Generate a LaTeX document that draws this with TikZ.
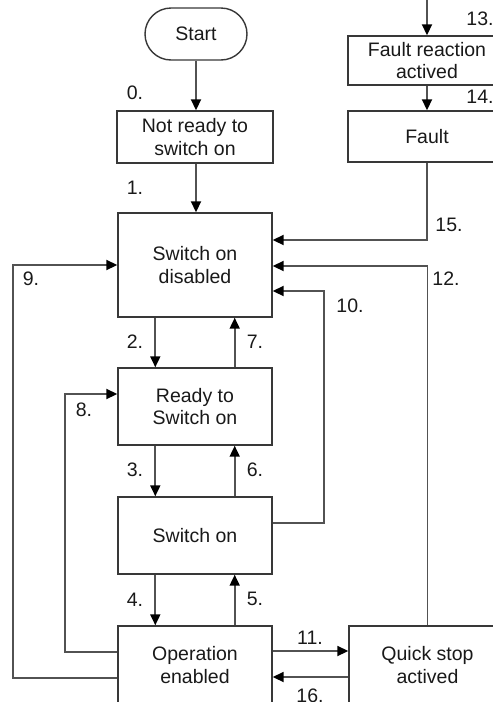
\documentclass[tikz,border=0pt]{standalone}
\usepackage{fontspec}
\setmainfont{Liberation Sans}
\usetikzlibrary{arrows.meta}
\begin{document}
\begin{tikzpicture}[x=1pt,y=-1pt,
  box/.style={draw=black!78,line width=1.4pt,fill=white,inner sep=0pt,align=center,font=\fontsize{19.5}{22.5}\selectfont,text=black!90},
  conn/.style={draw=black!68,line width=1.8pt,-{Triangle[length=11pt,width=10pt,color=black]}},
  num/.style={inner sep=0pt,font=\fontsize{19.5}{22.5}\selectfont,text=black!90}]
\useasboundingbox (0,0) rectangle (493,702);
\clip (0,0) rectangle (493,702);
% nodes
\node[box,rounded corners=26pt,minimum width=102pt,minimum height=52pt] (start) at (196,34) {Start};
\node[box,minimum width=156pt,minimum height=52pt] (notready) at (195,137) {Not ready to\\switch on};
\node[box,minimum width=154pt,minimum height=104pt] (sod) at (195,265) {Switch on\\disabled};
\node[box,minimum width=154pt,minimum height=77pt] (rts) at (195,406.5) {Ready to\\Switch on};
\node[box,minimum width=154pt,minimum height=77pt] (son) at (195,535.5) {Switch on};
\node[box,minimum width=154pt,minimum height=78pt] (oe) at (195,665) {Operation\\enabled};
\node[box,minimum width=157pt,minimum height=78pt] (qs) at (427.5,665) {Quick stop\\actived};
\node[box,minimum width=158pt,minimum height=49pt] (fra) at (427,60.5) {Fault reaction\\actived};
\node[box,minimum width=158pt,minimum height=51pt] (fault) at (427,136.5) {Fault};
\coordinate (in13) at (427,-2);
% connectors
\draw[conn] (start.south) -- (notready.north -| start.south);
\draw[conn] (notready.south -| start.south) -- (sod.north -| start.south);
\draw[conn] ([xshift=38pt]sod.south west) -- ([xshift=38pt]rts.north west);
\draw[conn] ([xshift=-38pt]rts.north east) -- ([xshift=-38pt]sod.south east);
\draw[conn] ([xshift=38pt]rts.south west) -- ([xshift=38pt]son.north west);
\draw[conn] ([xshift=-38pt]son.north east) -- ([xshift=-38pt]rts.south east);
\draw[conn] ([xshift=38pt]son.south west) -- ([xshift=38pt]oe.north west);
\draw[conn] ([xshift=-38pt]oe.north east) -- ([xshift=-38pt]son.south east);
\draw[conn] ([yshift=12.5pt]son.east) -- ++(51,0) |- ([yshift=-26pt]sod.east);
\draw[conn] (qs.north) |- ([yshift=-1pt]sod.east);
\draw[conn] (fault.south) |- ([yshift=25pt]sod.east);
\draw[conn] (in13) -- (fra.north);
\draw[conn] (fra.south) -- (fault.north);
\draw[conn] ([yshift=-13pt]oe.west) -- ++(-104,0) |- (sod.west);
\draw[conn] ([yshift=13pt]oe.west) -- ++(-52,0) |- ([yshift=12.5pt]rts.west);
\draw[conn] ([yshift=14pt]oe.east) -- ([yshift=14pt]qs.west);
\draw[conn] ([yshift=-12pt]qs.west) -- ([yshift=-12pt]oe.east);
% labels
\node[num] (l0) at (135,93) {0.};
\node[num] (l1) at (135,188) {1.};
\node[num] (l2) at (135,342) {2.};
\node[num] (l7) at (255,342) {7.};
\node[num] (l8) at (84,410) {8.};
\node[num] (l9) at (31,279) {9.};
\node[num] (l3) at (135,470) {3.};
\node[num] (l6) at (255,470) {6.};
\node[num] (l4) at (135,600) {4.};
\node[num] (l5) at (255,599) {5.};
\node[num] (l10) at (350,306) {10.};
\node[num] (l12) at (446,279) {12.};
\node[num] (l15) at (449,225) {15.};
\node[num] (l11) at (310,638) {11.};
\node[num] (l16) at (310,696) {16.};
\node[num] (l13) at (480,19) {13.};
\node[num] (l14) at (480,97) {14.};
\end{tikzpicture}
\end{document}
